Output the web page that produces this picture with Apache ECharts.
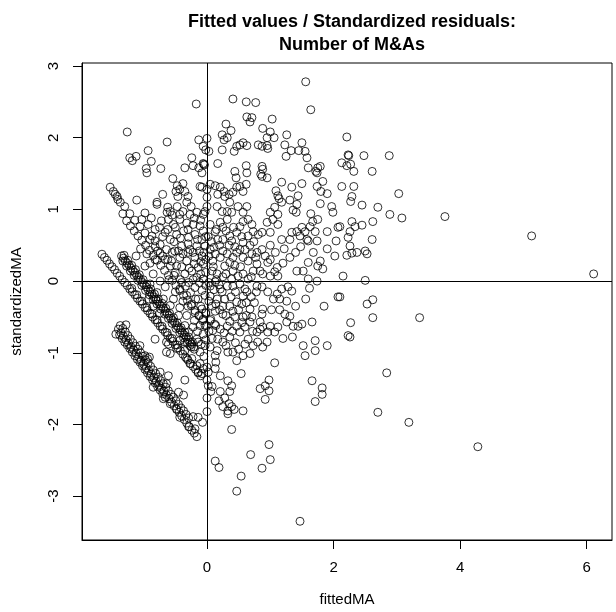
<!DOCTYPE html>
<html><head><meta charset="utf-8">
<script src="https://cdn.jsdelivr.net/npm/echarts@6/dist/echarts.min.js"></script>
<style>html,body{margin:0;padding:0;background:#fff}#c{width:616px;height:612px}</style>
</head><body><div id="c"></div>
<script>
// ---- texts and ticks ----
const chartTitle = 'Fitted values / Standardized residuals:\nNumber of M&As';
const xName = 'fittedMA';
const yName = 'standardizedMA';
const xTicks = [0, 2, 4, 6];
const yTicks = [-3, -2, -1, 0, 1, 2, 3];
const xRange = [-1.975, 6.40];
const yRange = [-3.611, 3.042];

// ---- points [fitted, standardized residual] ----
const upperLeft = [[-0.17,2.47],[0.41,2.54],[0.62,2.50],[-1.26,2.08],[-0.63,1.94],[0.30,2.19],[0.24,2.04],[0.38,2.10],[0.32,2.00],[0.27,1.97],[-0.13,1.97],[0.00,1.99],[-0.93,1.82],[-1.22,1.72],[-1.12,1.74],[-1.18,1.68],[-0.88,1.67],[-0.96,1.57],[-0.95,1.51],[-0.73,1.57],[-0.24,1.72],[-0.35,1.58],[-0.22,1.61],[-0.13,1.58],[-0.08,1.51],[-0.05,1.63],[-0.04,1.62],[-0.06,1.64],[-0.06,1.88],[-0.02,1.83],[0.03,1.81],[0.17,1.64],[0.24,1.83],[0.43,1.81],[0.47,1.88],[0.52,1.90],[0.57,1.93],[0.63,1.89],[0.63,2.29],[0.44,1.53],[0.46,1.44],[0.63,1.51],[0.62,1.61],
[-1.53,1.31],[-1.48,1.25],[-1.45,1.21],[-1.42,1.18],[-1.41,1.14],[-1.37,1.10],[-1.11,1.13],[-1.33,0.94],
[-0.54,1.43],[-0.47,1.33],[-0.43,1.28],[-0.38,1.36],[-0.49,1.25],[-0.35,1.25],[-0.46,1.18],[-0.30,1.18],[-0.32,1.10],[-0.25,1.04],
[-0.11,1.32],[-0.08,1.31],[0.00,1.28],[0.05,1.35],[0.13,1.33],[0.21,1.31],[0.17,1.21],[0.27,1.25],[0.28,1.18],[0.35,1.21],[0.41,1.24],[0.47,1.31],[0.52,1.32],[0.57,1.25],[0.62,1.35],
[0.00,1.17],[0.00,1.04],[0.16,1.04],[0.24,0.97],[0.32,0.97],[0.36,1.10],[0.39,0.96],[0.49,1.04],[0.57,0.96],[0.63,1.04],
[-0.79,1.10],[-0.79,1.07],[-0.70,1.21],[-0.62,1.03],[-0.58,0.97],[-0.63,0.96],[-0.47,1.04],[-0.43,0.93],[-0.38,0.97],[-0.27,0.93],[-0.16,0.96],[-0.06,0.93],[-0.03,0.97]];

const upperMid = [[1.56,2.78],[1.64,2.39],[0.77,2.49],[1.03,2.26],[0.71,2.28],[0.68,2.22],[0.88,2.13],[1.00,2.08],[0.95,2.00],[1.06,2.00],[1.26,2.04],[1.23,1.90],[1.33,1.82],[1.25,1.74],[1.50,1.93],[1.45,1.82],[1.55,1.81],[1.58,1.72],[2.21,2.01],[2.23,1.76],[2.13,1.65],[2.21,1.61],[1.60,1.58],[1.75,1.58],[1.79,1.60],[1.72,1.53],[1.74,1.51],[0.87,1.88],[0.81,1.90],[0.95,1.89],[0.96,1.85],[0.87,1.60],[0.88,1.56],[0.85,1.49],[0.95,1.44],[0.87,1.46],[1.18,1.38],[1.34,1.31],[1.50,1.36],[1.09,1.26],[1.83,1.39],[1.74,1.32],[1.80,1.25],[1.90,1.22],[2.13,1.32],[1.97,1.04],[1.99,0.96],[1.79,1.08],[1.44,1.19],[1.42,1.07],[1.31,1.13],[1.12,1.19],[1.14,1.15],[1.18,1.10],[1.36,0.99],[1.41,0.96],[1.64,0.94],[1.07,1.03],[1.12,0.93],[1.00,0.96]];

const rightSide = [[2.24,1.75],[2.48,1.75],[2.88,1.75],[2.27,1.63],[2.32,1.53],[2.61,1.53],[2.32,1.32],[2.29,1.18],[2.27,1.11],[2.45,1.06],[2.70,1.03],[3.03,1.22],[2.89,0.93],[3.08,0.88],[3.76,0.90],[5.13,0.63],[2.10,0.76],[2.29,0.83],[2.34,0.76],[2.45,0.78],[2.62,0.83],[2.26,0.69],[2.61,0.58],[2.26,0.49],[2.21,0.36],[2.29,0.39],[2.37,0.40],[2.50,0.42],[2.53,0.38],[2.15,0.07],[2.50,0.01],[2.10,-0.22],[2.53,-0.32],[2.62,-0.26],[2.62,-0.51],[3.36,-0.51],[2.27,-0.58],[2.26,-0.78],[2.84,-1.28],[2.70,-1.83],[3.19,-1.97],[4.28,-2.31],[6.11,0.10]];

const centerCloud = [[0.05,0.79],[0.13,0.69],[0.21,0.82],[0.25,0.75],[0.32,0.86],[0.17,0.58],[0.25,0.58],[0.36,0.63],[0.39,0.56],[0.47,0.68],[0.52,0.76],[0.57,0.83],[0.65,0.86],[0.71,0.79],[0.73,0.69],[0.65,0.63],[0.57,0.54],[0.81,0.65],[0.87,0.68],[1.00,0.68],[0.95,0.82],[1.04,0.86],[1.12,0.79],[1.18,0.58],[1.31,0.58],[1.34,0.68],[1.42,0.69],[1.47,0.63],[1.50,0.75],[1.55,0.69],[1.58,0.58],[1.63,0.76],[1.71,0.69],[1.74,0.56],[1.60,0.56],[1.67,0.83],[1.75,0.86],[1.90,0.69],[2.04,0.56],[2.07,0.75],[2.23,0.61],
[0.05,0.44],[0.13,0.38],[0.09,0.28],[0.21,0.33],[0.25,0.42],[0.32,0.38],[0.36,0.26],[0.28,0.21],[0.41,0.33],[0.47,0.40],[0.52,0.44],[0.57,0.33],[0.65,0.28],[0.71,0.38],[0.79,0.40],[0.87,0.44],[0.92,0.35],[0.96,0.26],[0.79,0.24],[0.84,0.14],[0.73,0.14],[0.88,0.10],[1.00,0.07],[1.07,0.13],[1.12,0.07],[1.11,0.19],[0.41,0.14],[0.49,0.07],[0.57,0.10],[0.65,0.03],[0.39,0.03],[0.25,0.06],[0.16,0.10],[0.08,0.14],[1.31,0.33],[1.42,0.14],[1.52,0.14],[1.60,0.26],[1.79,0.28],[1.83,0.17],[1.75,0.21],[1.60,0.03],[1.74,0.00],[2.02,0.35],
[0.05,-0.07],[0.13,-0.01],[0.21,-0.11],[0.32,-0.07],[0.41,-0.07],[0.52,-0.04],[0.60,-0.11],[0.63,-0.15],[0.57,-0.21],[0.79,-0.07],[0.87,-0.08],[0.96,-0.15],[1.11,-0.18],[1.18,-0.11],[1.28,-0.08],[1.15,-0.25],[1.26,-0.28],[1.34,-0.14],[1.56,-0.25],[2.07,-0.22],[0.05,-0.21],[0.16,-0.25],[0.28,-0.25],[0.36,-0.35],[0.47,-0.29],[0.25,-0.35],[0.41,-0.42],[0.55,-0.32],[0.68,-0.39],[0.88,-0.39],[0.87,-0.46],[0.71,-0.50],[0.84,-0.57],[0.57,-0.50],[0.25,-0.46],[0.13,-0.42],[0.08,-0.35],[0.36,-0.56],[0.47,-0.63],[0.60,-0.64],[0.68,-0.57],[0.32,-0.63],[0.21,-0.67],[0.09,-0.69],[0.17,-0.81],[0.25,-0.85],[0.36,-0.78],[0.52,-0.71],[0.65,-0.81],[0.79,-0.71],[0.84,-0.67],[0.88,-0.64],[1.00,-0.63],[1.12,-0.64],[1.07,-0.71],[0.96,-0.71],[0.73,-0.90],[0.88,-0.92],[0.68,-1.01],[0.57,-1.04],[0.41,-0.99],[0.33,-0.99],[0.16,-0.97],[0.05,-0.92],[0.13,-1.04],[1.23,-0.46],[1.31,-0.49],[1.26,-0.57],[1.36,-0.63],[1.44,-0.63],[1.50,-0.60],[1.66,-0.57],[2.23,-0.76],[1.52,-0.90],[1.71,-0.83],[1.71,-0.97],[1.90,-0.90],[1.55,-1.04]];

const denseCenter = [[0.02,0.62],[0.07,0.55],[0.11,0.47],[0.03,0.35],[0.10,0.20],[0.15,0.02],[0.03,-0.02],[0.19,-0.05],[0.24,-0.15],[0.11,-0.12],[0.03,-0.28],[0.14,-0.32],[0.20,-0.40],[0.30,-0.48],[0.05,-0.55],[0.12,-0.60],[0.27,-0.72],[0.40,-0.70],[0.45,-0.86],[0.30,-0.90],[0.08,-0.80],[0.03,-0.70],[0.44,-0.50],[0.50,-0.40],[0.62,-0.30],[0.70,-0.22],[0.45,-0.15],[0.38,-0.22],[0.30,0.10],[0.44,0.22],[0.53,0.20],[0.60,0.44],[0.68,0.50],[0.44,0.48],[0.35,0.50],[0.20,0.50],[0.15,0.72],[0.42,0.75],[0.55,0.62],[0.30,0.70],[0.74,0.55],[0.77,0.33],[0.70,0.06],[0.78,-0.15],[0.75,-0.30],[0.62,-0.48],[0.55,-0.58],[0.72,-0.70],[0.60,-0.88],[0.50,-0.95],[0.80,-0.85],[0.95,-0.85],[1.02,-0.40],[1.05,-0.25],[1.00,0.30],[1.08,0.40],[1.20,0.25],[1.22,0.45],[1.00,0.50],[1.15,-0.40],[1.20,-0.80],[1.40,-0.35],[1.40,0.40],[1.48,0.48],[1.35,-0.78],[1.62,-0.10],[1.68,0.40],[1.90,0.45],[1.85,-0.35]];

const lowerMid = [[0.14,-1.13],[0.13,-1.22],[0.21,-1.32],[0.33,-1.39],[0.39,-1.46],[0.47,-1.11],[1.07,-1.14],[0.54,-1.29],[1.66,-1.39],[1.82,-1.49],[1.82,-1.58],[1.71,-1.68],[0.84,-1.50],[0.92,-1.46],[0.98,-1.38],[0.98,-1.53],[0.92,-1.65],[0.21,-1.54],[0.36,-1.54],[0.28,-1.63],[0.19,-1.67],[0.25,-1.75],[0.35,-1.71],[0.39,-1.75],[0.33,-1.81],[0.33,-1.85],[0.43,-1.79],[0.57,-1.81],[0.39,-2.07],[0.98,-2.28],[0.69,-2.42],[1.00,-2.49],[0.87,-2.61],[0.54,-2.72],[0.47,-2.93],[0.13,-2.51],[0.19,-2.60],[1.47,-3.35],[0.00,-1.63],[0.00,-1.82],[0.06,-1.54],[0.02,-1.46],[0.08,-1.47],[0.00,-1.38],[0.02,-1.27],[0.00,-1.20]];

const lowerLeft = [[-1.44,-0.74],[-1.28,-0.61],[-0.22,-1.89],[-0.14,-1.90],[-0.07,-1.97],[-0.29,-2.03],[-0.19,-2.06],[-0.43,-1.90],[-0.48,-1.78],[-0.58,-1.71],[-0.69,-1.64],[-0.37,-1.59],[-0.45,-1.55],[-0.35,-1.38],[-0.85,-1.48],[-0.64,-1.43],[-0.61,-1.32],[-0.74,-1.27],[-1.06,-0.90],[-0.98,-1.04],[-0.94,-1.08],[-0.91,-1.06],
[-0.82,-0.81],[-0.64,-0.85],[-0.61,-0.88],[-0.43,-0.83],[-0.35,-0.85],[-0.14,-0.85],[-0.64,-0.99],[-0.58,-1.01],[-0.48,-0.94],[-0.35,-0.97],[-0.32,-1.08],[-0.24,-1.08],[-0.27,-1.15],[-0.16,-1.18],[-0.11,-1.15],[-0.14,-1.27],[-0.08,-1.29],[-0.06,-1.22]];

const leftCloud = [[-0.61,0.86],[-0.53,0.79],[-0.43,0.86],[-0.32,0.81],[-0.22,0.79],[-0.11,0.77],[-0.06,0.70],[-1.03,0.86],[-0.93,0.79],[-0.82,0.72],[-0.72,0.84],[-0.66,0.68],[-0.58,0.58],[-0.48,0.65],[-0.37,0.70],[-0.29,0.61],[-0.19,0.65],[-0.08,0.58],[-0.03,0.49],[-0.16,0.49],[-0.27,0.44],[-0.40,0.49],[-0.51,0.42],[-0.64,0.44],[-0.74,0.51],[-0.82,0.56],[-0.87,0.63],[-0.43,0.33],[-0.32,0.28],[-0.19,0.33],[-0.08,0.35],[-0.06,0.24],[-0.14,0.19],[-0.24,0.14],[-0.35,0.10],[-0.48,0.21],[-0.56,0.28],[-0.16,0.05],[-0.06,0.03],[-0.29,-0.02],[-0.43,-0.11],[-0.32,-0.20],[-0.19,-0.09],[-0.08,-0.13],[-0.03,-0.20],[-0.14,-0.25],[-0.24,-0.32],[-0.08,-0.39],[-0.19,-0.44],[-0.32,-0.48],[-0.43,-0.37],[-0.53,-0.25],[-0.06,-0.53],[-0.11,-0.62],[-0.22,-0.64],[-0.29,-0.71],[-0.06,-0.74],[-0.16,-0.81],[-0.27,-0.90],[-0.03,-0.90],[-0.11,-0.99],[-0.58,-0.34],[-0.69,-0.25],[-0.79,-0.16],[-0.90,-0.04],[-0.74,0.00],[-0.85,0.10],[-0.98,0.21]];

const denseLeft = [[-0.95,0.38],[-0.90,0.25],[-0.82,0.30],[-0.78,0.42],[-0.70,0.35],[-0.62,0.30],[-0.55,0.40],[-0.45,0.42],[-0.38,0.38],[-0.30,0.40],[-0.22,0.40],[-0.12,0.42],[-0.05,0.40],[-0.02,0.30],[-0.10,0.27],[-0.20,0.24],[-0.28,0.18],[-0.40,0.20],[-0.52,0.08],[-0.60,0.02],[-0.66,-0.08],[-0.50,-0.15],[-0.40,-0.02],[-0.22,0.02],[-0.12,-0.02],[-0.02,-0.06],[-0.02,0.12],[-0.10,0.10],[-0.30,-0.35],[-0.38,-0.28],[-0.45,-0.48],[-0.20,-0.55],[-0.12,-0.48],[-0.02,-0.45],[-0.03,-0.62],[-0.15,-0.70],[-0.35,-0.62],[-0.02,-0.82],[-0.09,-0.88],[-0.20,-0.95],[-0.05,-1.05],[-0.70,0.62],[-0.62,0.72],[-0.52,0.55],[-0.42,0.60],[-0.30,0.52],[-0.15,0.58],[-0.02,0.62],[-0.10,0.85],[-0.30,0.72],[-0.50,0.75],[-0.75,0.75],[-0.98,0.95],[-0.88,0.88],[-0.55,0.92],[-0.20,0.88],[-1.05,0.45],[-1.12,0.35],[-0.92,-0.25],[-0.85,-0.35],[-0.75,-0.45]];

const bandZero = [[-1.40,-0.67],[-1.36,-0.72],[-1.32,-0.77],[-1.28,-0.82],[-1.24,-0.87],[-1.20,-0.92],[-1.16,-0.96],[-1.12,-1.01],[-1.08,-1.06],[-1.04,-1.11],[-1.00,-1.16],[-0.96,-1.21],[-0.92,-1.25],[-0.88,-1.30],[-0.84,-1.35],[-0.80,-1.40],[-0.76,-1.45],[-0.72,-1.50],[-0.68,-1.54],[-0.64,-1.59],[-0.60,-1.64],[-0.56,-1.69],[-0.52,-1.74],[-0.48,-1.79],[-0.44,-1.83],[-0.40,-1.88],[-0.36,-1.93],[-0.32,-1.98],[-0.28,-2.03],[-0.24,-2.08],[-0.20,-2.12],[-0.16,-2.17],
[-1.37,-0.62],[-1.33,-0.66],[-1.29,-0.71],[-1.25,-0.76],[-1.21,-0.81],[-1.17,-0.86],[-1.13,-0.91],[-1.09,-0.95],[-1.05,-1.00],[-1.01,-1.05],[-0.97,-1.10],[-0.93,-1.14],[-0.89,-1.19],[-0.85,-1.24],[-0.81,-1.29],[-0.77,-1.34],[-0.73,-1.39],[-0.69,-1.43],[-0.65,-1.48],[-0.61,-1.53],[-0.57,-1.58],[-0.53,-1.62],[-0.49,-1.67],[-0.45,-1.72],[-0.41,-1.77],[-0.37,-1.81],[-0.33,-1.86],[-0.29,-1.91],
[-1.38,-0.75],[-1.34,-0.80],[-1.30,-0.85],[-1.26,-0.89],[-1.22,-0.94],[-1.18,-0.99],[-1.14,-1.04],[-1.10,-1.09],[-1.06,-1.13],[-1.02,-1.18],[-0.98,-1.23],[-0.94,-1.28],[-0.90,-1.33],[-0.86,-1.38],[-0.82,-1.42],[-0.78,-1.47],[-0.74,-1.52],[-0.70,-1.57],[-0.66,-1.62]];

const bandOne = [[-1.66,0.375],[-1.62,0.33],[-1.58,0.29],[-1.54,0.24],[-1.50,0.20],[-1.46,0.16],[-1.42,0.11],[-1.38,0.07],[-1.34,0.02],[-1.30,-0.02],[-1.26,-0.06],[-1.22,-0.11],[-1.18,-0.15],[-1.14,-0.19],[-1.10,-0.24],[-1.06,-0.28],[-1.02,-0.32],[-0.98,-0.37],[-0.94,-0.41],[-0.90,-0.45],[-0.86,-0.50],[-0.82,-0.54],[-0.78,-0.58],[-0.74,-0.63],[-0.70,-0.67],[-0.66,-0.71],[-0.62,-0.76],[-0.58,-0.80],[-0.54,-0.84],[-0.50,-0.89],[-0.46,-0.93],[-0.42,-0.97],[-0.38,-1.02],[-0.34,-1.06],[-0.30,-1.10],[-0.26,-1.15],[-0.22,-1.19],[-0.18,-1.23],[-0.14,-1.28],[-0.10,-1.32],
[-1.19,-0.10],[-1.11,-0.19],[-1.03,-0.28],[-0.95,-0.37],[-0.87,-0.46],[-0.79,-0.54],[-0.71,-0.63],[-0.63,-0.72],[-0.55,-0.80],[-0.47,-0.89]];

const bandTwo = [[-1.35,0.35],[-1.32,0.32],[-1.29,0.28],[-1.26,0.25],[-1.23,0.22],[-1.20,0.18],[-1.17,0.15],[-1.14,0.12],[-1.11,0.08],[-1.08,0.05],[-1.05,0.02],[-1.02,-0.02],[-0.99,-0.05],[-0.96,-0.08],[-0.93,-0.12],[-0.90,-0.15],[-0.87,-0.18],[-0.84,-0.22],[-0.81,-0.25],[-0.78,-0.28],[-0.75,-0.32],[-0.72,-0.35],[-0.69,-0.38],[-0.66,-0.42],[-0.63,-0.45],[-0.60,-0.48],[-0.57,-0.52],[-0.54,-0.55],[-0.51,-0.58],[-0.48,-0.62],[-0.45,-0.65],[-0.42,-0.68],[-0.39,-0.72],[-0.36,-0.75],[-0.33,-0.78],[-0.30,-0.82],[-0.27,-0.85],[-0.24,-0.88],[-0.21,-0.92],
[-1.31,0.36],[-1.25,0.29],[-1.19,0.22],[-1.13,0.16],[-1.07,0.09],[-1.01,0.02],[-0.95,-0.05],[-0.89,-0.11],[-0.83,-0.18],[-0.77,-0.25],[-0.71,-0.31],[-0.65,-0.38],[-0.59,-0.45],[-0.53,-0.51],[-0.47,-0.58],[-0.41,-0.65],[-0.35,-0.71],[-0.29,-0.78],[-0.23,-0.85],
[-1.33,0.28],[-1.27,0.21],[-1.21,0.14],[-1.15,0.08],[-1.09,0.01],[-1.03,-0.06],[-0.97,-0.13],[-0.91,-0.19],[-0.85,-0.26],[-0.79,-0.32],[-0.73,-0.39],[-0.67,-0.46],[-0.61,-0.52],[-0.55,-0.59],[-0.49,-0.66],[-0.43,-0.72],[-0.37,-0.79],[-0.31,-0.86],[-0.25,-0.92]];

const bandThree = [[-1.27,0.84],[-1.21,0.77],[-1.15,0.70],[-1.09,0.63],[-1.03,0.57],[-0.97,0.50],[-0.91,0.43],[-0.85,0.36],[-0.79,0.29],[-0.73,0.22],[-0.67,0.15],[-0.61,0.08],[-0.55,0.01],[-0.49,-0.06],[-0.43,-0.13],[-0.37,-0.20],[-0.31,-0.27],[-0.25,-0.34],[-0.19,-0.41],[-0.13,-0.48],[-0.07,-0.55],[-0.01,-0.62]];

const bandFour = [[-1.30,1.04],[-1.22,0.94],[-1.14,0.85],[-1.06,0.76],[-0.98,0.67],[-0.90,0.58],[-0.82,0.48],[-0.74,0.39],[-0.66,0.30],[-0.58,0.21],[-0.50,0.12],[-0.42,0.02],[-0.34,-0.07],[-0.26,-0.16],[-0.18,-0.25],[-0.10,-0.35],[-0.02,-0.44],[0.06,-0.53],[0.14,-0.62]];

const allPoints = [].concat(upperLeft, upperMid, rightSide, centerCloud, denseCenter, lowerMid, lowerLeft, leftCloud, denseLeft, bandZero, bandOne, bandTwo, bandThree, bandFour);

const FONT = "'Liberation Sans', Arial, Helvetica, sans-serif";
const chart = echarts.init(document.getElementById('c'), null, {renderer: 'canvas'});
chart.setOption({
  animation: false,
  backgroundColor: '#ffffff',
  title: {
    text: chartTitle,
    left: 347, top: 6, textAlign: 'center',
    textStyle: {fontFamily: FONT, fontSize: 18, fontWeight: 'bold', color: '#000', lineHeight: 23}
  },
  grid: {left: 82, top: 63, right: 4, bottom: 70, show: true, borderColor: '#000', borderWidth: 1, backgroundColor: 'transparent'},
  xAxis: {
    type: 'value', min: xRange[0], max: xRange[1],
    name: xName, nameLocation: 'middle', nameGap: 52,
    nameTextStyle: {fontFamily: FONT, fontSize: 15, color: '#000'},
    axisLine: {show: true, onZero: false, lineStyle: {color: '#000', width: 1}},
    axisTick: {show: true, inside: false, length: 9, customValues: xTicks, lineStyle: {color: '#000', width: 1}},
    axisLabel: {show: true, customValues: xTicks, margin: 20, fontFamily: FONT, fontSize: 15, color: '#000'},
    splitLine: {show: false}
  },
  yAxis: {
    type: 'value', min: yRange[0], max: yRange[1],
    name: yName, nameLocation: 'middle', nameGap: 58,
    nameTextStyle: {fontFamily: FONT, fontSize: 15, color: '#000'},
    axisLine: {show: true, onZero: false, lineStyle: {color: '#000', width: 1}},
    axisTick: {show: true, inside: false, length: 9, customValues: yTicks, lineStyle: {color: '#000', width: 1}},
    axisLabel: {show: true, customValues: yTicks, rotate: 90, margin: 21, fontFamily: FONT, fontSize: 15, color: '#000'},
    splitLine: {show: false}
  },
  series: [{
    type: 'scatter',
    data: allPoints,
    symbol: 'circle',
    symbolSize: 8,
    itemStyle: {color: 'rgba(0,0,0,0)', borderColor: '#000', borderWidth: 1},
    emphasis: {disabled: true},
    silent: true,
    markLine: {
      silent: true, symbol: ['none', 'none'], animation: false,
      label: {show: false},
      lineStyle: {color: '#000', width: 1, type: 'solid'},
      data: [{xAxis: 0}, {yAxis: 0}]
    }
  }]
});
</script>
</body></html>
